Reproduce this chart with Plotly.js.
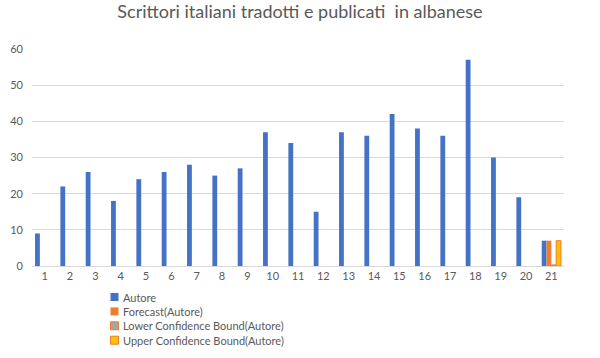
<!DOCTYPE html>
<html><head><meta charset="utf-8">
<script src="https://cdn.plot.ly/plotly-3.0.1.min.js"></script>
<style>html,body{margin:0;padding:0;background:#fff}#c{width:600px;height:358px}</style>
</head><body><div id="c"></div>
<script>
const categories = ["1","2","3","4","5","6","7","8","9","10","11","12","13","14","15","16","17","18","19","20","21"];
const autore = [9,22,26,18,24,26,28,25,27,37,34,15,37,36,42,38,36,57,30,19,7];
const forecast = [null,null,null,null,null,null,null,null,null,null,null,null,null,null,null,null,null,null,null,null,7];
const lowerBound = [null,null,null,null,null,null,null,null,null,null,null,null,null,null,null,null,null,null,null,null,0.3];
const upperBound = [null,null,null,null,null,null,null,null,null,null,null,null,null,null,null,null,null,null,null,null,7];
const seriesNames = ['Autore','Forecast(Autore)','Lower Confidence Bound(Autore)','Upper Confidence Bound(Autore)'];
const fills = ['#4472C4','#ED7D31','#A5A5A5','#FFC000'];
const borders = [null,null,'#ED7D31','#ED7D31'];
const txt = '#595959';
const fontFam = 'Lato, "Open Sans", sans-serif';
const W = 600, H = 358, M = {l:32, r:36, t:49, b:92};
const pw = W - M.l - M.r, ph = H - M.t - M.b;
const px2x = p => (p - M.l) / pw;
const px2y = p => (H - M.b - p) / ph;
const vals = [autore, forecast, lowerBound, upperBound];
const traces = vals.map((v,i) => ({
  type:'bar', name:seriesNames[i], x:categories, y:v,
  marker:{color:fills[i], line: borders[i] ? {color:borders[i], width:1} : {width:0}}
}));
const shapes = [], annotations = [];
seriesNames.forEach((n,i) => {
  const cy = 297 + i*14.4;
  shapes.push({type:'rect', xref:'paper', yref:'paper', x0:px2x(110.5), x1:px2x(118.5), y0:px2y(cy-4), y1:px2y(cy+4),
    fillcolor:fills[i], line: borders[i] ? {color:borders[i], width:1} : {width:0}});
  annotations.push({xref:'paper', yref:'paper', x:px2x(121), y:px2y(cy), xanchor:'left', yanchor:'middle', showarrow:false,
    text:n, font:{family:fontFam, size:11, color:txt}});
});
const layout = {
  width:W, height:H, margin:M,
  paper_bgcolor:'#fff', plot_bgcolor:'#fff',
  font:{family:fontFam, size:11, color:txt},
  title:{text:'Scrittori italiani tradotti e publicati  in albanese', x:0.5, xanchor:'center', y:1, yanchor:'top', pad:{t:5}, font:{family:fontFam, size:18, color:txt}},
  barmode:'group', bargap:0.24, bargroupgap:0,
  xaxis:{type:'category', showgrid:false, showline:true, linecolor:'#d9d9d9', linewidth:1, ticks:'', tickfont:{size:11, color:txt}},
  yaxis:{range:[0,60], dtick:10, showgrid:true, gridcolor:'#d9d9d9', zeroline:false, showline:false, ticks:'', tickfont:{size:11, color:txt}, ticklabelstandoff:8},
  showlegend:false,
  shapes: shapes, annotations: annotations
};
Plotly.newPlot('c', traces, layout, {displayModeBar:false, staticPlot:true});
</script></body></html>
